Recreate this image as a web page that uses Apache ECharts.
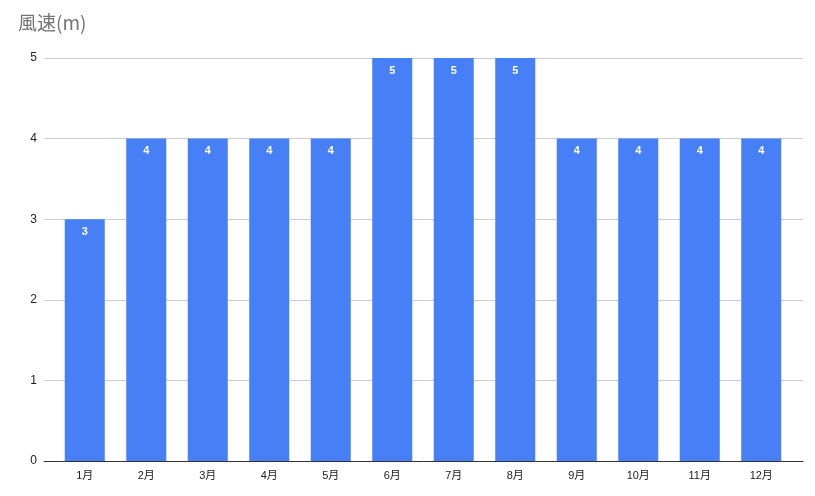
<!DOCTYPE html>
<html><head><meta charset="utf-8">
<script src="https://cdn.jsdelivr.net/npm/echarts@6/dist/echarts.min.js"></script>
<style>html,body{margin:0;padding:0;background:#fff}#c{width:815px;height:496px}</style>
</head><body><div id="c"></div>
<script>
const categories = ['1月','2月','3月','4月','5月','6月','7月','8月','9月','10月','11月','12月'];
const windSpeed = [3,4,4,4,4,5,5,5,4,4,4,4];
const yTicks = [0,1,2,3,4,5];

const chart = echarts.init(document.getElementById('c'));
const font = '"Liberation Sans", "Noto Sans CJK JP", Arial, sans-serif';
chart.setOption({
  animation: false,
  title: { text: '風速(m)', left: 13, top: 8, textStyle: { fontFamily: '"Noto Sans CJK JP", sans-serif', fontSize: 19, fontWeight: 'normal', color: '#757575' } },
  grid: [
    { left: 44, right: 12, top: 58, bottom: 35 },
    { left: 54, right: 23, top: 58, bottom: 35 }
  ],
  xAxis: [
    { gridIndex: 0, type: 'value', min: 0, max: 1, axisLine: { show: true, lineStyle: { color: '#333', width: 1 } }, axisTick: { show: false }, axisLabel: { show: false }, splitLine: { show: false } },
    { gridIndex: 1, type: 'category', data: categories, axisLine: { show: false }, axisTick: { show: false }, splitLine: { show: false },
      axisLabel: { color: '#222', fontSize: 11, fontFamily: font, margin: 9 } }
  ],
  yAxis: [
    { gridIndex: 0, type: 'value', min: yTicks[0], max: yTicks[yTicks.length-1], interval: 1,
      axisLine: { show: false }, axisTick: { show: false },
      axisLabel: { color: '#222', fontSize: 12, fontFamily: font, margin: 7, padding: [2, 0, 0, 0] },
      splitLine: { lineStyle: { color: '#cccccc', width: 1 } } },
    { gridIndex: 1, type: 'value', min: 0, max: 5, interval: 1, show: false }
  ],
  series: [{
    type: 'bar', xAxisIndex: 1, yAxisIndex: 1, data: windSpeed, barWidth: 40,
    itemStyle: { color: '#467ff6' },
    label: { show: true, position: 'insideTop', distance: 7, color: '#fff', fontSize: 11, fontWeight: 'bold', fontFamily: font }
  }]
});
</script></body></html>
